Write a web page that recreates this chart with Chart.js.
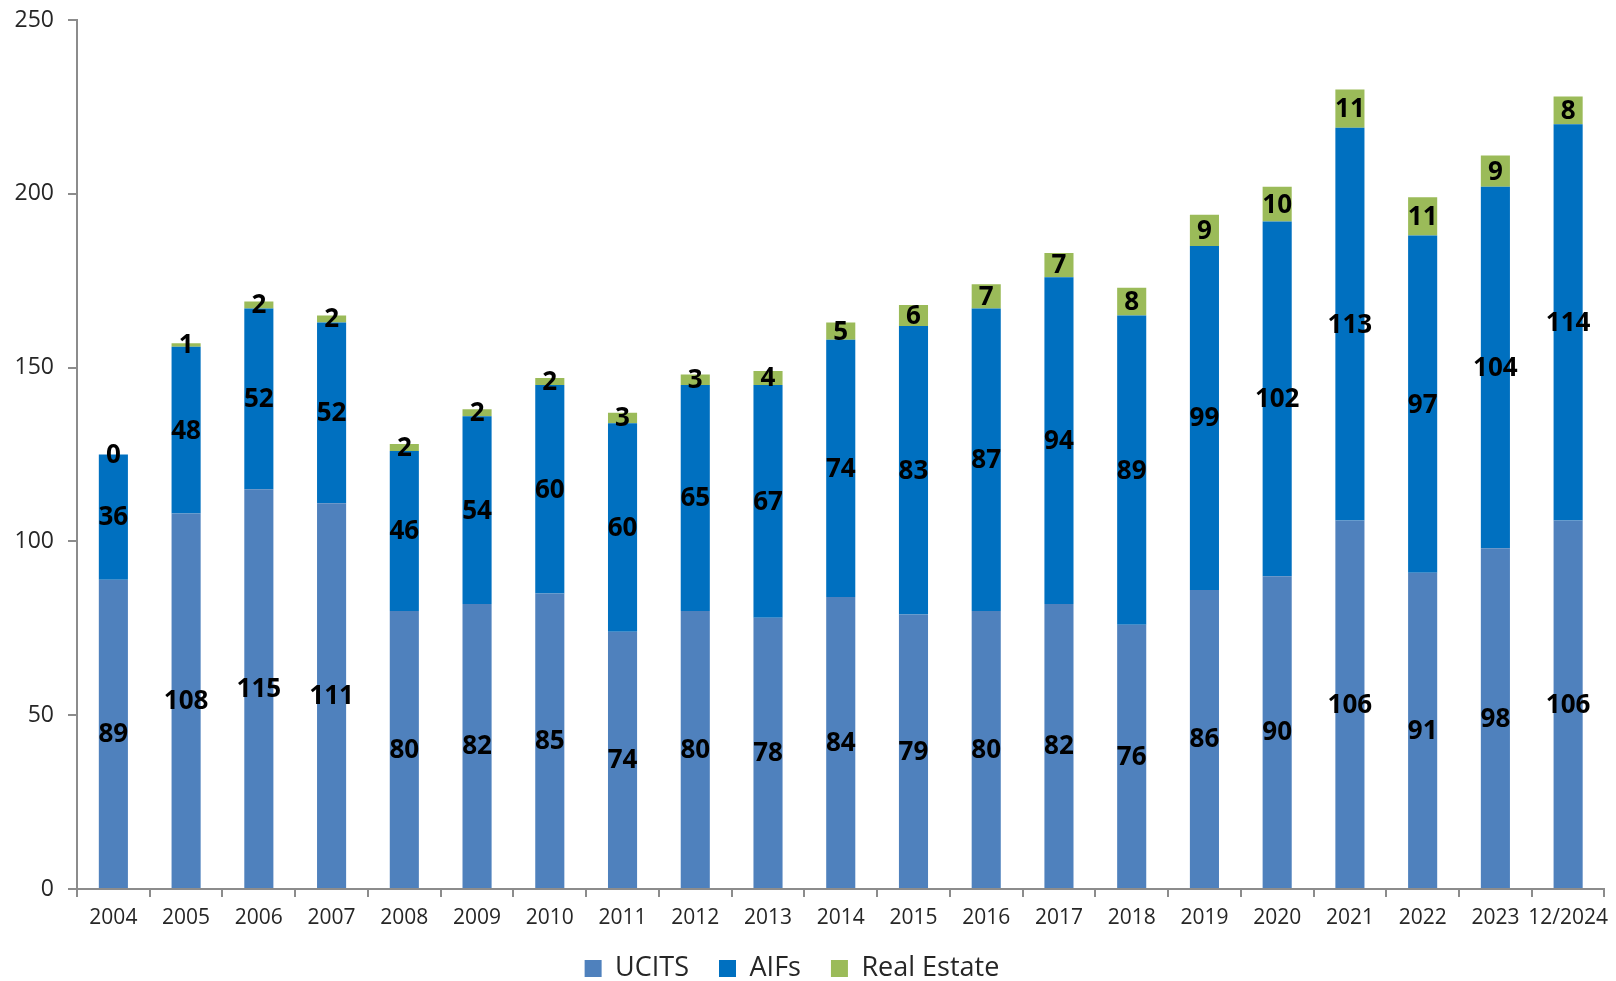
<!DOCTYPE html>
<html>
<head>
<meta charset="utf-8">
<script src="https://cdn.jsdelivr.net/npm/chart.js@4.4.1/dist/chart.umd.min.js"></script>
<style>
  html, body { margin: 0; padding: 0; background: #ffffff; overflow: hidden; }
  #wrap { position: relative; width: 1616px; height: 981px; }
</style>
</head>
<body>
<div id="wrap"><canvas id="c"></canvas></div>
<script>
const categories = ['2004','2005','2006','2007','2008','2009','2010','2011','2012','2013','2014','2015','2016','2017','2018','2019','2020','2021','2022','2023','12/2024'];
const ucits      = [89,108,115,111,80,82,85,74,80,78,84,79,80,82,76,86,90,106,91,98,106];
const aifs       = [36,48,52,52,46,54,60,60,65,67,74,83,87,94,89,99,102,113,97,104,114];
const realEstate = [0,1,2,2,2,2,2,3,3,4,5,6,7,7,8,9,10,11,11,9,8];
const yTicks = [0,50,100,150,200,250];

const AXIS = '#8c8c8c';
const TXT = '#262626';

const centerLabels = {
  id: 'centerLabels',
  afterLayout(chart) {
    if (chart.legend) { chart.legend.left -= 16; chart.legend.right -= 16; }
  },
  afterDatasetsDraw(chart) {
    const ctx = chart.ctx;
    ctx.save();
    ctx.font = 'bold 26px "Open Sans"';
    ctx.fillStyle = '#000000';
    ctx.textAlign = 'center';
    ctx.textBaseline = 'middle';
    chart.data.datasets.forEach((ds, di) => {
      const meta = chart.getDatasetMeta(di);
      meta.data.forEach((el, i) => {
        const p = el.getProps(['x', 'y', 'base'], true);
        ctx.fillText(String(ds.data[i]), p.x, (p.y + p.base) / 2 + 1);
      });
    });
    ctx.restore();
  }
};

new Chart(document.getElementById('c'), {
  type: 'bar',
  data: {
    labels: categories,
    datasets: [
      { label: 'UCITS', data: ucits, backgroundColor: '#4F81BD' },
      { label: 'AIFs', data: aifs, backgroundColor: '#0070C0' },
      { label: 'Real Estate', data: realEstate, backgroundColor: '#9BBB59' }
    ]
  },
  options: {
    responsive: true,
    maintainAspectRatio: false,
    animation: false,
    datasets: { bar: { categoryPercentage: 1.0, barPercentage: 0.4 } },
    layout: { padding: { top: 20, right: 0, bottom: -11, left: 0 } },
    plugins: {
      tooltip: { enabled: false },
      legend: {
        position: 'bottom',
        labels: {
          font: { family: '"Open Sans"', size: 27 },
          color: TXT,
          boxWidth: 17,
          boxHeight: 17,
          padding: 30
        }
      }
    },
    scales: {
      x: {
        stacked: true,
        grid: { display: true, drawOnChartArea: false, drawTicks: true, tickLength: 8, color: AXIS, lineWidth: 2, offset: true },
        border: { display: true, color: AXIS, width: 2 },
        ticks: { font: { family: '"Open Sans"', size: 21 }, color: TXT, padding: 8, maxRotation: 0, autoSkip: false },
        afterFit(scale) { scale.height = 36; }
      },
      y: {
        stacked: true,
        min: 0,
        max: 250,
        afterBuildTicks(scale) { scale.ticks = yTicks.map(v => ({ value: v })); },
        grid: { display: true, drawOnChartArea: false, drawTicks: true, tickLength: 9, color: AXIS, lineWidth: 2 },
        border: { display: true, color: AXIS, width: 2 },
        ticks: { font: { family: '"Open Sans"', size: 23 }, color: TXT, padding: 14 },
        afterFit(scale) { scale.width = 77; scale.paddingTop = 0; scale.paddingBottom = 0; }
      }
    }
  },
  plugins: [centerLabels]
});
</script>
</body>
</html>
